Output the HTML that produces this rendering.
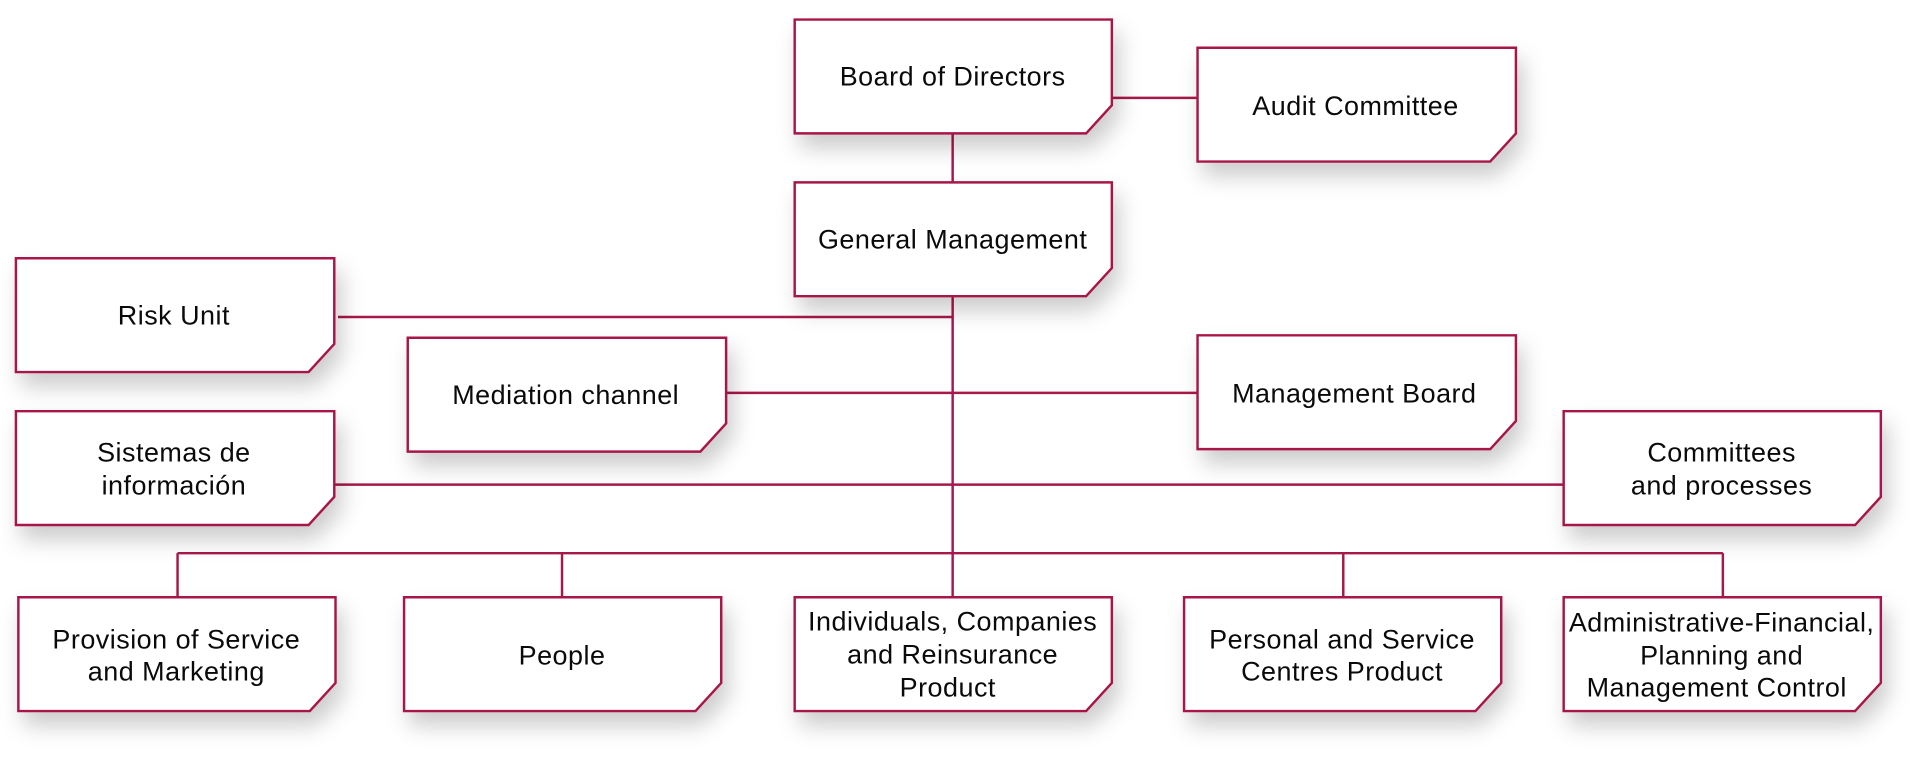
<!DOCTYPE html>
<html><head><meta charset="utf-8"><style>
html,body{margin:0;padding:0;background:#fff;width:1920px;height:760px;overflow:hidden}
svg{display:block}
text{font-family:"Liberation Sans","DejaVu Sans",sans-serif;font-size:22px;letter-spacing:0.4px;fill:#0a0a0a;text-anchor:middle}
</style></head><body>
<svg width="1920" height="760" viewBox="0 0 1568 621" preserveAspectRatio="none" xmlns="http://www.w3.org/2000/svg">
<defs>
<filter id="sh" x="-20%" y="-30%" width="150%" height="180%">
<feDropShadow dx="5" dy="11" stdDeviation="9" flood-color="#000" flood-opacity="0.2"/>
</filter>
</defs>
<g stroke="#a8174a" stroke-width="2" fill="none">
<line x1="778" y1="109" x2="778" y2="488"/>
<line x1="908" y1="80" x2="978" y2="80"/>
<line x1="276" y1="259" x2="778" y2="259"/>
<line x1="593" y1="321" x2="978" y2="321"/>
<line x1="273" y1="396" x2="1277" y2="396"/>
<line x1="145" y1="452" x2="1407" y2="452"/>
<line x1="145" y1="452" x2="145" y2="488"/>
<line x1="459" y1="452" x2="459" y2="488"/>
<line x1="1097" y1="452" x2="1097" y2="488"/>
<line x1="1407" y1="452" x2="1407" y2="488"/>
</g>
<g fill="#fff" stroke="#a8174a" stroke-width="2" filter="url(#sh)">
<path d="M649 16H908V86L887 109H649Z"/>
<path d="M978 39H1238V109L1217 132H978Z"/>
<path d="M649 149H908V219L887 242H649Z"/>
<path d="M13 211H273V281L252 304H13Z"/>
<path d="M333 276H593V346L572 369H333Z"/>
<path d="M978 274H1238V344L1217 367H978Z"/>
<path d="M13 336H273V406L252 429H13Z"/>
<path d="M1277 336H1536V406L1515 429H1277Z"/>
<path d="M15 488H274V558L253 581H15Z"/>
<path d="M330 488H589V558L568 581H330Z"/>
<path d="M649 488H908V558L887 581H649Z"/>
<path d="M967 488H1226V558L1205 581H967Z"/>
<path d="M1277 488H1536V558L1515 581H1277Z"/>
</g>
<text x="778" y="70">Board of Directors</text>
<text x="1107" y="94">Audit Committee</text>
<text x="778" y="203">General Management</text>
<text x="142" y="265">Risk Unit</text>
<text x="462" y="330">Mediation channel</text>
<text x="1106" y="329">Management Board</text>
<text x="142" y="377">Sistemas de</text>
<text x="142" y="404">información</text>
<text x="1406" y="377">Committees</text>
<text x="1406" y="404">and processes</text>
<text x="144" y="530">Provision of Service</text>
<text x="144" y="556">and Marketing</text>
<text x="459" y="543">People</text>
<text x="778" y="515">Individuals, Companies</text>
<text x="778" y="542">and Reinsurance</text>
<text x="774" y="569">Product</text>
<text x="1096" y="530">Personal and Service</text>
<text x="1096" y="556">Centres Product</text>
<text x="1406" y="516">Administrative-Financial,</text>
<text x="1406" y="543">Planning and</text>
<text x="1402" y="569">Management Control</text>
</svg>
</body></html>
